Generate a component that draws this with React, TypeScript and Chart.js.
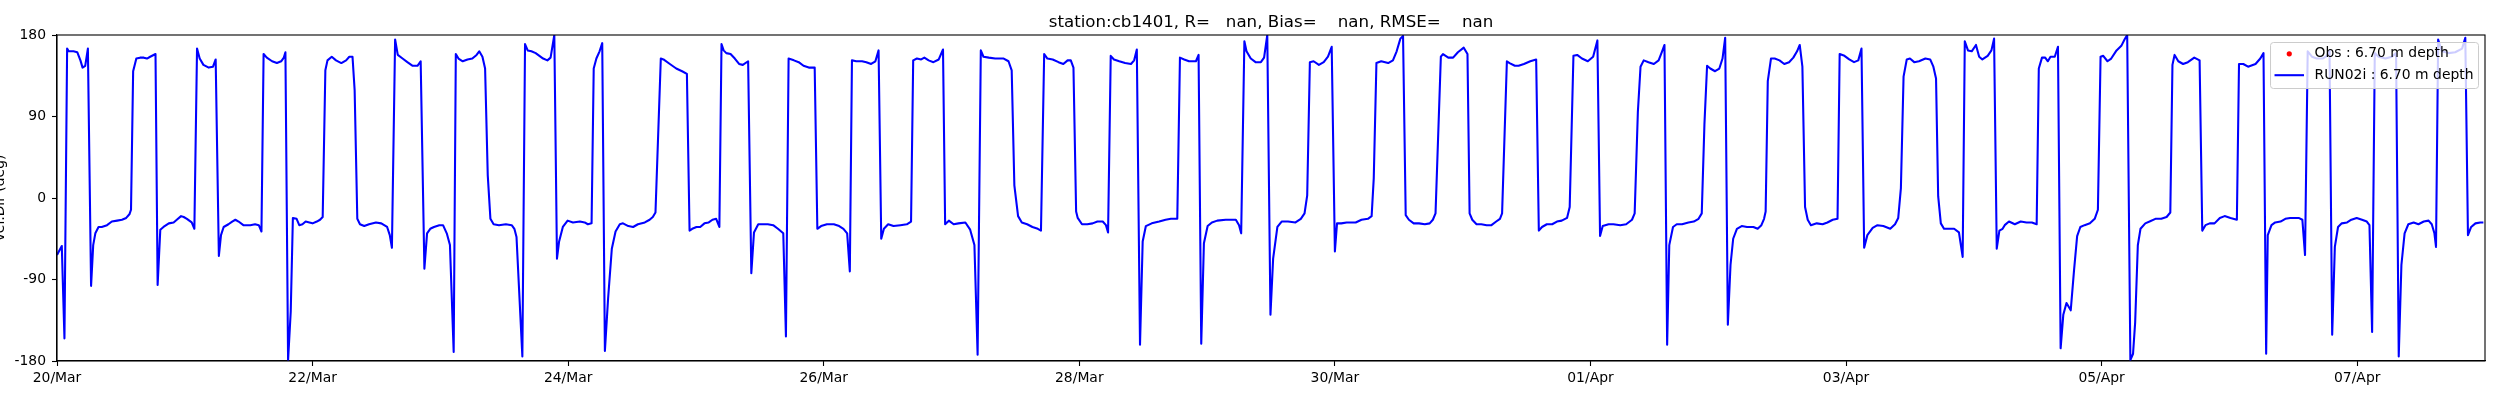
import React, { useEffect, useRef } from "react";
import { Chart, registerables } from "chart.js";

Chart.register(...registerables);

// ---------- text ----------
const titleText = "station:cb1401, R=   nan, Bias=    nan, RMSE=    nan";
const yAxisTitle = "vel.Dir (deg)";
const obsLegend = "Obs : 6.70 m depth";
const modelLegend = "RUN02i : 6.70 m depth";

// ---------- axes (x in hours since 20/Mar 00:00) ----------
const xStartHour = 0;
const xEndHour = 456;
const dateTickHours = [0, 48, 96, 144, 192, 240, 288, 336, 384, 432];
const dateTickLabels = ["20/Mar", "22/Mar", "24/Mar", "26/Mar", "28/Mar", "30/Mar", "01/Apr", "03/Apr", "05/Apr", "07/Apr"];
const dirTickValues = [-180, -90, 0, 90, 180];
const dirTickLabels = ["-180", "-90", "0", "90", "180"];

// ---------- data: [hours since 20/Mar 00:00, direction deg] ----------
const obsSamples: [number, number][] = []; // observations are all NaN

// 20/Mar - 25/Mar
const run02iPart1: [number, number][] = [
  [0.0, -63], [0.9, -53], [1.4, -155], [1.9, 165], [2.2, 162], [3.1, 162], [3.8, 161], [4.4, 152], [4.8, 144], [5.3, 146], [5.8, 165],
  [6.4, -97], [6.8, -52], [7.2, -39], [7.8, -32], [8.4, -32], [9.4, -30], [10.3, -26], [11.3, -25], [12.2, -24], [13.0, -22], [13.6, -18], [13.9, -13],
  [14.3, 140], [14.9, 154], [15.6, 155], [16.3, 155], [16.9, 154], [17.5, 156], [18.5, 159],
  [18.9, -96], [19.4, -35], [20.0, -32], [21.0, -28], [21.9, -27], [22.5, -24], [23.3, -20], [23.8, -21], [24.4, -23], [25.3, -27], [25.8, -34],
  [26.3, 165], [26.8, 154], [27.5, 147], [28.5, 144], [29.3, 145], [29.8, 153],
  [30.4, -64], [30.8, -41], [31.3, -32], [32.2, -29], [32.9, -26], [33.5, -24], [34.1, -26], [35.0, -30], [36.3, -30], [37.2, -29], [37.9, -30], [38.4, -37],
  [38.8, 159], [39.4, 155], [40.4, 151], [41.3, 149], [42.1, 151], [42.6, 155], [42.9, 161],
  [43.4, -179], [43.9, -125], [44.3, -22], [45.0, -23], [45.5, -30], [46.1, -29], [46.7, -26], [47.4, -27], [48.0, -28], [48.8, -26], [49.4, -24], [49.9, -21],
  [50.4, 141], [50.8, 152], [51.6, 156], [52.4, 152], [53.4, 149], [54.3, 152], [54.9, 156], [55.5, 156], [55.9, 119],
  [56.4, -23], [56.9, -29], [57.7, -31], [58.6, -29], [59.9, -27], [60.9, -28], [62.0, -32], [62.5, -41], [62.9, -55],
  [63.5, 175], [64.0, 158], [64.9, 154], [65.8, 150], [66.8, 146], [67.7, 146], [68.3, 151],
  [69.0, -78], [69.5, -39], [70.1, -34], [70.8, -32], [71.8, -30], [72.5, -30], [73.2, -39], [73.8, -52], [74.5, -170],
  [74.9, 159], [75.4, 154], [76.2, 151], [77.1, 153], [78.0, 154], [78.8, 158], [79.3, 162], [79.9, 156], [80.4, 143],
  [80.9, 25], [81.4, -23], [82.0, -29], [83.0, -30], [84.3, -29], [85.4, -30], [85.9, -34], [86.3, -43], [87.4, -175],
  [87.9, 170], [88.4, 163], [89.1, 162], [89.9, 160], [91.3, 154], [92.1, 152], [92.7, 155], [93.4, 180],
  [93.9, -67], [94.3, -48], [95.0, -32], [95.9, -25], [96.9, -27], [98.2, -26], [99.1, -27], [99.7, -29], [100.4, -28],
  [100.8, 143], [101.3, 154], [101.9, 162], [102.4, 171],
  [102.9, -169], [103.5, -111], [104.2, -56], [104.9, -37], [105.7, -29], [106.3, -28], [107.3, -31], [108.2, -32], [109.1, -29], [110.4, -27], [111.3, -24], [111.9, -21], [112.4, -16],
  [113.4, 154], [113.9, 153], [115.1, 148], [116.3, 143], [117.4, 140], [118.3, 137],
  [118.8, -36], [119.3, -34], [120.1, -32], [120.8, -32], [121.6, -28], [122.4, -27], [123.1, -24], [123.8, -23], [124.4, -32],
  [124.8, 170], [125.2, 163], [125.7, 160], [126.5, 159], [127.3, 154], [128.1, 148], [128.8, 147], [129.8, 151],
  [130.4, -83], [130.9, -38], [131.7, -29], [132.6, -29], [133.5, -29], [134.5, -30], [135.4, -34], [136.4, -39], [136.9, -153],
];

// 25/Mar - 30/Mar
const run02iPart2: [number, number][] = [
  [137.4, 154], [138.4, 152], [139.3, 150], [140.2, 146], [141.2, 144], [142.3, 144],
  [142.8, -34], [143.5, -31], [144.6, -29], [145.9, -29], [146.9, -31], [147.7, -34], [148.4, -39], [148.9, -81],
  [149.3, 152], [150.1, 151], [151.2, 151], [152.0, 150], [152.9, 148], [153.7, 151], [154.3, 163],
  [154.8, -45], [155.3, -34], [156.1, -29], [157.1, -31], [158.4, -30], [159.6, -29], [160.4, -26],
  [160.8, 152], [161.5, 154], [162.3, 153], [162.9, 155], [163.7, 152], [164.6, 150], [165.6, 153], [166.4, 164],
  [166.8, -29], [167.5, -25], [168.4, -29], [169.3, -28], [170.6, -27], [171.5, -35], [172.3, -52], [172.9, -173],
  [173.5, 163], [174.0, 156], [175.0, 155], [176.2, 154], [177.8, 154], [178.7, 151], [179.3, 141],
  [179.8, 14], [180.5, -20], [181.2, -27], [182.2, -29], [183.2, -32], [184.2, -34], [184.8, -36],
  [185.4, 159], [186.0, 154], [187.0, 153], [188.1, 150], [189.0, 148], [189.8, 152], [190.4, 152], [190.9, 144],
  [191.4, -15], [191.7, -22], [192.5, -29], [193.5, -29], [194.5, -28], [195.4, -26], [196.4, -26], [197.0, -30], [197.4, -38],
  [197.9, 157], [198.5, 153], [199.5, 151], [200.6, 149], [201.7, 148], [202.3, 152], [202.8, 164],
  [203.4, -162], [203.9, -48], [204.5, -31], [205.6, -28], [207.0, -26], [208.2, -24], [209.2, -23], [210.4, -23],
  [210.9, 155], [211.7, 153], [212.6, 151], [213.9, 151], [214.4, 158],
  [214.9, -161], [215.4, -50], [216.1, -31], [216.9, -27], [217.9, -25], [219.5, -24], [221.4, -24], [222.0, -30], [222.4, -39],
  [223.0, 173], [223.4, 162], [224.2, 154], [225.1, 150], [226.1, 150], [226.7, 155], [227.3, 180],
  [227.9, -129], [228.4, -67], [229.2, -32], [230.0, -26], [231.2, -26], [232.6, -27], [233.6, -23], [234.3, -17], [234.8, 3],
  [235.3, 150], [236.0, 151], [237.0, 147], [237.9, 150], [238.7, 156], [239.4, 167],
  [240.0, -59], [240.4, -28], [241.2, -28], [242.2, -27], [243.9, -27], [245.0, -24], [246.2, -23], [246.9, -20], [247.3, 22],
  [247.8, 149], [248.7, 151], [250.0, 149], [250.9, 152], [251.6, 162], [252.3, 176], [252.8, 179],
  [253.3, -19], [253.9, -24], [254.8, -28], [255.8, -28], [256.9, -29], [257.8, -28], [258.4, -24], [258.9, -17],
];

// 30/Mar - 04/Apr
const run02iPart3: [number, number][] = [
  [259.9, 156], [260.3, 159], [261.3, 155], [262.2, 155], [263.1, 161], [264.2, 166], [264.9, 159],
  [265.3, -17], [265.8, -24], [266.6, -29], [267.5, -29], [268.5, -30], [269.4, -30], [270.3, -26], [271.0, -23], [271.4, -17],
  [272.3, 151], [272.8, 149], [273.8, 146], [274.5, 146], [275.5, 148], [276.7, 151], [277.8, 153],
  [278.3, -36], [278.9, -32], [279.8, -29], [280.8, -29], [281.7, -26], [282.6, -25], [283.6, -22], [284.1, -10],
  [284.8, 157], [285.5, 158], [286.4, 154], [287.5, 151], [288.5, 156], [289.3, 174],
  [289.8, -42], [290.3, -31], [291.4, -29], [292.3, -29], [293.6, -30], [294.7, -29], [295.8, -24], [296.3, -17],
  [296.9, 95], [297.4, 145], [298.0, 152], [298.9, 150], [299.9, 148], [300.8, 152], [301.4, 161], [301.9, 169],
  [302.4, -162], [302.8, -52], [303.5, -32], [304.2, -29], [305.2, -29], [306.4, -27], [307.4, -26], [308.3, -23], [308.9, -17],
  [309.4, 81], [309.9, 146], [310.5, 143], [311.4, 140], [312.2, 143], [312.8, 154], [313.3, 177],
  [313.8, -140], [314.3, -74], [314.8, -45], [315.5, -34], [316.4, -31], [317.4, -32], [318.6, -32], [319.4, -34], [320.1, -30], [320.6, -23], [320.9, -15],
  [321.3, 129], [321.9, 154], [322.6, 154], [323.5, 152], [324.4, 148], [325.3, 150], [326.1, 155], [326.8, 162], [327.3, 169], [327.8, 145],
  [328.3, -10], [328.8, -24], [329.4, -30], [330.5, -28], [331.6, -29], [332.5, -27], [333.5, -24], [334.4, -23],
  [334.8, 159], [335.7, 157], [336.6, 153], [337.5, 150], [338.3, 152], [338.9, 165],
  [339.4, -55], [340.0, -41], [341.0, -33], [341.9, -30], [343.0, -31], [344.3, -34], [345.2, -29], [345.8, -22], [346.3, 11],
  [346.8, 134], [347.4, 153], [348.0, 154], [348.8, 150], [349.7, 151], [350.9, 154], [351.8, 153], [352.4, 145], [352.9, 132],
  [353.3, 2], [353.8, -28], [354.4, -34], [355.4, -34], [356.3, -34], [357.2, -38], [357.9, -65],
  [358.3, 173], [358.9, 163], [359.6, 162], [360.4, 169], [361.0, 156], [361.6, 153], [362.6, 157], [363.3, 163], [363.8, 176],
];

// 04/Apr - 08/Apr
const run02iPart4: [number, number][] = [
  [364.3, -56], [364.8, -36], [365.4, -34], [365.8, -30], [366.6, -26], [367.7, -29], [368.8, -26], [369.9, -27], [370.9, -27], [371.8, -29],
  [372.2, 143], [372.8, 155], [373.4, 155], [373.9, 151], [374.4, 156], [375.2, 156], [375.8, 167],
  [376.3, -166], [376.8, -129], [377.4, -116], [378.2, -124], [378.8, -81], [379.4, -42], [380.0, -32], [380.8, -30], [381.8, -28], [382.7, -23], [383.3, -13],
  [383.8, 156], [384.3, 157], [385.1, 151], [385.8, 154], [386.8, 163], [387.7, 168], [388.3, 175], [388.8, 180],
  [389.4, -179], [389.9, -172], [390.3, -137], [390.8, -52], [391.3, -34], [392.2, -28], [393.0, -26], [394.1, -23], [395.2, -23], [396.2, -21], [396.9, -16],
  [397.3, 147], [397.7, 158], [398.4, 151], [399.3, 148], [400.2, 150], [401.4, 155], [402.4, 152],
  [402.9, -36], [403.5, -30], [404.3, -28], [405.2, -28], [406.2, -22], [407.1, -20], [408.2, -22], [409.4, -24],
  [409.8, 148], [410.6, 148], [411.5, 145], [412.9, 148], [413.8, 154], [414.4, 160],
  [414.9, -172], [415.2, -41], [415.9, -30], [416.6, -27], [417.6, -26], [418.5, -23], [419.4, -22], [421.0, -22], [421.7, -24], [422.2, -63],
  [422.7, 162], [423.5, 156], [424.4, 154], [425.5, 154], [426.3, 157], [426.8, 163],
  [427.3, -151], [427.8, -54], [428.4, -32], [429.1, -28], [430.1, -27], [430.9, -24], [431.9, -22], [432.9, -24], [433.8, -26], [434.3, -30], [434.8, -148],
  [435.3, 160], [436.0, 156], [437.3, 154], [438.5, 156], [439.3, 160],
  [439.8, -175], [440.3, -74], [440.9, -39], [441.6, -29], [442.6, -27], [443.5, -29], [444.5, -26], [445.4, -25], [446.0, -29], [446.5, -39], [446.8, -54],
  [447.2, 175], [447.9, 162], [449.2, 160], [450.4, 161], [451.7, 165], [452.3, 177],
  [452.8, -41], [453.4, -32], [454.2, -28], [455.1, -27], [455.7, -27],
];

const FONT = '"DejaVu Sans", sans-serif';

const decorPlugin = {
  id: "decor",
  afterDraw(chart: any) {
    const { ctx, chartArea } = chart;
    const { left, right, top, bottom } = chartArea;
    ctx.save();
    // frame (all four spines)
    ctx.strokeStyle = "#000";
    ctx.lineWidth = 1.1;
    ctx.strokeRect(left, top, right - left, bottom - top);

    // title
    ctx.fillStyle = "#000";
    ctx.font = `16.67px ${FONT}`;
    ctx.textAlign = "center";
    ctx.textBaseline = "alphabetic";
    ctx.fillText(titleText, (left + right) / 2, top - 8.3);

    // legend (upper right, inside axes)
    const fs = 13.9;
    ctx.font = `${fs}px ${FONT}`;
    const labels = chart.data.datasets.map((d: any) => d.label as string);
    const textW = Math.max(...labels.map((l: string) => ctx.measureText(l).width));
    const boxRight = right - 6.5;
    const boxTop = top + 7.5;
    const handleLen = 29.5;
    const boxW = 4 + handleLen + 10.5 + textW + 5;
    const boxH = 46;
    const boxLeft = boxRight - boxW;
    ctx.beginPath();
    const r = 3;
    ctx.moveTo(boxLeft + r, boxTop);
    ctx.lineTo(boxRight - r, boxTop);
    ctx.arcTo(boxRight, boxTop, boxRight, boxTop + r, r);
    ctx.lineTo(boxRight, boxTop + boxH - r);
    ctx.arcTo(boxRight, boxTop + boxH, boxRight - r, boxTop + boxH, r);
    ctx.lineTo(boxLeft + r, boxTop + boxH);
    ctx.arcTo(boxLeft, boxTop + boxH, boxLeft, boxTop + boxH - r, r);
    ctx.lineTo(boxLeft, boxTop + r);
    ctx.arcTo(boxLeft, boxTop, boxLeft + r, boxTop, r);
    ctx.closePath();
    ctx.fillStyle = "rgba(255,255,255,0.8)";
    ctx.fill();
    ctx.strokeStyle = "#cccccc";
    ctx.lineWidth = 1;
    ctx.stroke();

    const rowY = [boxTop + 11.3, boxTop + 32.7];
    const hx0 = boxLeft + 4;
    const hx1 = hx0 + handleLen;
    const textX = hx1 + 10.5;
    // Obs: red point
    ctx.fillStyle = "#ff0000";
    ctx.beginPath();
    ctx.arc((hx0 + hx1) / 2, rowY[0], 2.6, 0, Math.PI * 2);
    ctx.fill();
    // RUN02i: blue line
    ctx.strokeStyle = "#0000ff";
    ctx.lineWidth = 2.08;
    ctx.beginPath();
    ctx.moveTo(hx0, rowY[1]);
    ctx.lineTo(hx1, rowY[1]);
    ctx.stroke();

    ctx.fillStyle = "#000";
    ctx.textAlign = "left";
    ctx.textBaseline = "middle";
    ctx.fillText(labels[0], textX, rowY[0]);
    ctx.fillText(labels[1], textX, rowY[1]);
    ctx.restore();
  },
};

export default function App() {
  const canvasRef = useRef<HTMLCanvasElement | null>(null);

  useEffect(() => {
    const canvas = canvasRef.current;
    if (!canvas) return;
    const modelData = [...run02iPart1, ...run02iPart2, ...run02iPart3, ...run02iPart4].map(([h, d]) => ({ x: h, y: d }));
    const obsData = obsSamples.map(([h, d]) => ({ x: h, y: d }));

    const tickFont = { family: FONT, size: 13.9 };

    const chart = new Chart(canvas, {
      type: "line",
      data: {
        datasets: [
          {
            label: obsLegend,
            data: obsData,
            showLine: false,
            pointRadius: 2.6,
            pointBorderWidth: 0,
            backgroundColor: "#ff0000",
            borderColor: "#ff0000",
          },
          {
            label: modelLegend,
            data: modelData,
            borderColor: "#0000ff",
            backgroundColor: "#0000ff",
            borderWidth: 2.08,
            pointRadius: 0,
            tension: 0,
            fill: false,
            borderJoinStyle: "round",
            borderCapStyle: "butt",
          },
        ],
      } as any,
      options: {
        animation: false,
        responsive: false,
        maintainAspectRatio: false,
        layout: { padding: { left: 0, right: 15, top: 35, bottom: 0 } },
        plugins: {
          legend: { display: false },
          title: { display: false },
          tooltip: { enabled: false },
        },
        scales: {
          x: {
            type: "linear",
            min: xStartHour,
            max: xEndHour,
            afterBuildTicks: (s: any) => {
              s.ticks = dateTickHours.map((v) => ({ value: v }));
            },
            afterFit: (s: any) => {
              s.height = 39;
            },
            ticks: {
              callback: (v: any) => {
                const i = dateTickHours.indexOf(Number(v));
                return i >= 0 ? dateTickLabels[i] : "";
              },
              font: tickFont,
              color: "#000",
              padding: 4,
              maxRotation: 0,
              minRotation: 0,
              autoSkip: false,
            },
            grid: {
              display: true,
              drawOnChartArea: false,
              drawTicks: true,
              tickLength: 5,
              tickColor: "#000",
              tickWidth: 1.1,
            },
            border: { display: true, color: "#000", width: 1.1 },
          },
          y: {
            type: "linear",
            min: -180,
            max: 180,
            afterBuildTicks: (s: any) => {
              s.ticks = dirTickValues.map((v) => ({ value: v }));
            },
            afterFit: (s: any) => {
              s.width = 57;
            },
            ticks: {
              callback: (v: any) => {
                const i = dirTickValues.indexOf(Number(v));
                return i >= 0 ? dirTickLabels[i] : "";
              },
              font: tickFont,
              color: "#000",
              padding: 6,
            },
            grid: {
              display: true,
              drawOnChartArea: false,
              drawTicks: true,
              tickLength: 5,
              tickColor: "#000",
              tickWidth: 1.1,
            },
            border: { display: true, color: "#000", width: 1.1 },
            title: {
              display: true,
              text: yAxisTitle,
              font: { family: FONT, size: 13.9, lineHeight: 1 },
              color: "#000",
              padding: { top: -6.5, bottom: 0 },
            },
          },
        },
      } as any,
      plugins: [decorPlugin],
    });

    return () => {
      chart.destroy();
    };
  }, []);

  return (
    <div style={{ position: "fixed", left: 0, top: 0, width: 2500, height: 400, background: "#fff" }}>
      <canvas ref={canvasRef} width={2500} height={400} style={{ display: "block", width: 2500, height: 400 }} />
    </div>
  );
}
